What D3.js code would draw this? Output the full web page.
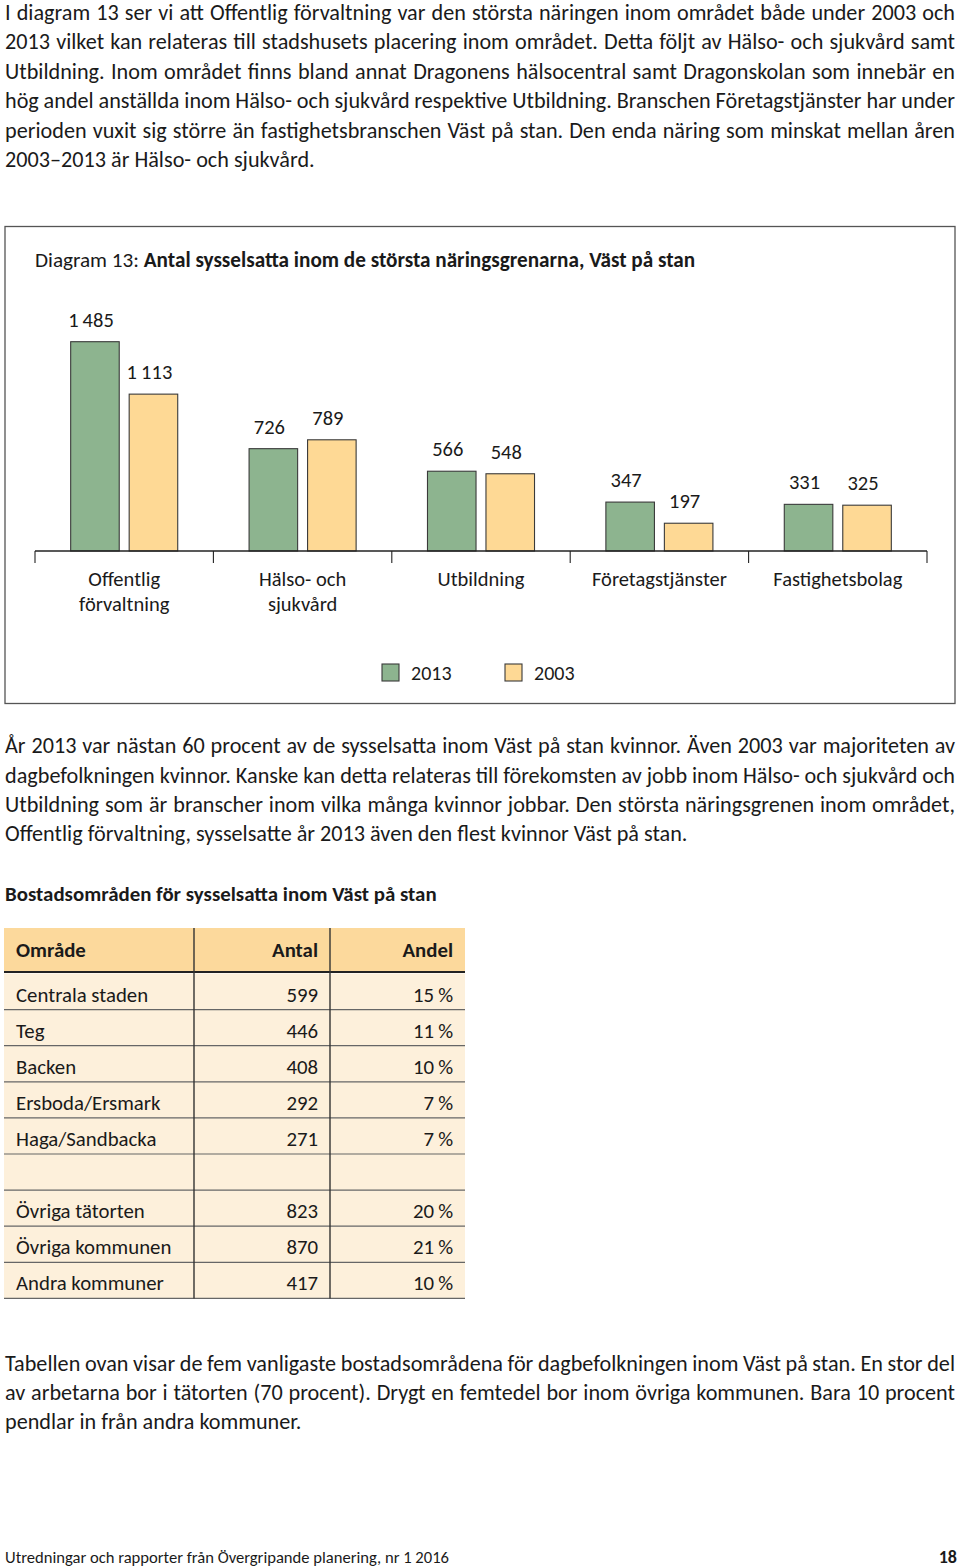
<!DOCTYPE html>
<html>
<head>
<meta charset="utf-8">
<script src="https://cdn.jsdelivr.net/npm/d3@7"></script>
<style>
  html, body { margin: 0; padding: 0; background: #fff; }
  svg { display: block; font-family: Carlito, Lato, "Open Sans", sans-serif; }
</style>
</head>
<body>
<svg id="page" width="960" height="1568"></svg>
<script>
// ---------- DATA ----------
const categories = ["Offentlig förvaltning", "Hälso- och sjukvård", "Utbildning", "Företagstjänster", "Fastighetsbolag"];
const categoryLabelLines = [["Offentlig", "förvaltning"], ["Hälso- och", "sjukvård"], ["Utbildning"], ["Företagstjänster"], ["Fastighetsbolag"]];
const seriesNames = ["2013", "2003"];
const values2013 = [1485, 726, 566, 347, 331];
const values2003 = [1113, 789, 548, 197, 325];

const tableHeader = ["Område", "Antal", "Andel"];
const tableAreas = ["Centrala staden", "Teg", "Backen", "Ersboda/Ersmark", "Haga/Sandbacka", "", "Övriga tätorten", "Övriga kommunen", "Andra kommuner"];
const tableAntal = [599, 446, 408, 292, 271, null, 823, 870, 417];
const tableAndel = [15, 11, 10, 7, 7, null, 20, 21, 10];

const para1 = [
  "I diagram 13 ser vi att Offentlig förvaltning var den största näringen inom området både under 2003 och",
  "2013 vilket kan relateras till stadshusets placering inom området. Detta följt av Hälso- och sjukvård samt",
  "Utbildning. Inom området finns bland annat Dragonens hälsocentral samt Dragonskolan som innebär en",
  "hög andel anställda inom Hälso- och sjukvård respektive Utbildning. Branschen Företagstjänster har under",
  "perioden vuxit sig större än fastighetsbranschen Väst på stan. Den enda näring som minskat mellan åren",
  "2003–2013 är Hälso- och sjukvård."
];
const para2 = [
  "År 2013 var nästan 60 procent av de sysselsatta inom Väst på stan kvinnor. Även 2003 var majoriteten av",
  "dagbefolkningen kvinnor. Kanske kan detta relateras till förekomsten av jobb inom Hälso- och sjukvård och",
  "Utbildning som är branscher inom vilka många kvinnor jobbar. Den största näringsgrenen inom området,",
  "Offentlig förvaltning, sysselsatte år 2013 även den flest kvinnor Väst på stan."
];
const para3 = [
  "Tabellen ovan visar de fem vanligaste bostadsområdena för dagbefolkningen inom Väst på stan. En stor del",
  "av arbetarna bor i tätorten (70 procent). Drygt en femtedel bor inom övriga kommunen. Bara 10 procent",
  "pendlar in från andra kommuner."
];
const tableTitle = "Bostadsområden för sysselsatta inom Väst på stan";
const chartTitlePrefix = "Diagram 13: ";
const chartTitleBold = "Antal sysselsatta inom de största näringsgrenarna, Väst på stan";
const footerText = "Utredningar och rapporter från Övergripande planering, nr 1 2016";
const pageNumber = "18";

// ---------- STYLE ----------
const GREEN = "#8db48f";
const YELLOW = "#fed995";
const HEADER_FILL = "#fcd99c";
const ROW_FILL = "#fdf0db";
const TEXT = "#1a1a1a";
const BODY_SIZE = 22.2;
const CHART_SIZE = 20.5;
const TABLE_SIZE = 20.8;

const svg = d3.select("#page");
const locale = d3.formatLocale({decimal: ",", thousands: "\u2009", grouping: [3], currency: ["", " kr"]});
const fmt = locale.format(",d");

// ---------- PARAGRAPHS ----------
function paragraph(lines, x, y0, lh, width) {
  const g = svg.append("g").attr("fill", TEXT).style("font-size", BODY_SIZE + "px");
  lines.forEach((line, i) => {
    const t = g.append("text").attr("x", x).attr("y", y0 + i * lh).text(line);
    if (i < lines.length - 1) {
      const w = t.node().getComputedTextLength();
      const n = (line.match(/ /g) || []).length;
      t.attr("word-spacing", (width - w) / n);
    }
  });
}
paragraph(para1, 5, 19.5, 29.5, 950);
paragraph(para2, 5, 753.3, 29.2, 950);
paragraph(para3, 5, 1371, 29, 950);

// ---------- CHART BOX ----------
svg.append("rect").attr("x", 5).attr("y", 226.5).attr("width", 950).attr("height", 477)
  .attr("fill", "none").attr("stroke", "#555").attr("stroke-width", 1.3);

const title = svg.append("text").attr("x", 35).attr("y", 267).attr("fill", TEXT)
  .style("font-size", "21.2px");
title.append("tspan").text(chartTitlePrefix);
title.append("tspan").attr("font-weight", "bold").text(chartTitleBold);

const x0 = d3.scaleBand().domain(categories).range([35, 927]).paddingInner(0.4).paddingOuter(0.2);
const x1 = d3.scaleBand().domain(seriesNames).range([0, x0.bandwidth()]).paddingInner(0.17);
const y = d3.scaleLinear().domain([0, 1485]).range([551, 341.7]);
const color = d3.scaleOrdinal().domain(seriesNames).range([GREEN, YELLOW]);

const rows = categories.map((c, i) => ({cat: c, lines: categoryLabelLines[i], vals: [
  {s: "2013", v: values2013[i]}, {s: "2003", v: values2003[i]}]}));

const chart = svg.append("g");
const groups = chart.selectAll("g.cat").data(rows).join("g").attr("class", "cat")
  .attr("transform", d => `translate(${x0(d.cat)},0)`);

groups.selectAll("rect").data(d => d.vals).join("rect")
  .attr("x", d => x1(d.s)).attr("y", d => y(d.v))
  .attr("width", x1.bandwidth()).attr("height", d => y(0) - y(d.v))
  .attr("fill", d => color(d.s)).attr("stroke", "#3a3a3a").attr("stroke-width", 1.1);

groups.selectAll("text.val").data(d => d.vals).join("text").attr("class", "val")
  .attr("x", d => x1(d.s) + x1.bandwidth() / 2 - 4).attr("y", d => y(d.v) - 15)
  .attr("text-anchor", "middle").attr("fill", TEXT).style("font-size", CHART_SIZE + "px")
  .text(d => fmt(d.v));

// axis
const step = x0.step();
const boundaries = d3.range(categories.length + 1).map(i => x0(categories[0]) - step * x0.paddingInner() / 2 + i * step);
chart.append("line").attr("x1", boundaries[0]).attr("x2", boundaries[boundaries.length - 1])
  .attr("y1", y(0)).attr("y2", y(0)).attr("stroke", "#222").attr("stroke-width", 1.6);
chart.selectAll("line.tick").data(boundaries).join("line").attr("class", "tick")
  .attr("x1", d => d).attr("x2", d => d).attr("y1", y(0)).attr("y2", y(0) + 12)
  .attr("stroke", "#222").attr("stroke-width", 1.1);

groups.each(function(d) {
  const t = d3.select(this).append("text").attr("text-anchor", "middle").attr("fill", TEXT)
    .style("font-size", CHART_SIZE + "px");
  d.lines.forEach((ln, i) => {
    t.append("tspan").attr("x", x0.bandwidth() / 2).attr("y", 586 + i * 25).text(ln);
  });
});

// legend
const legendX = [382, 505];
const legend = svg.append("g").selectAll("g").data(seriesNames).join("g")
  .attr("transform", (d, i) => `translate(${legendX[i]},664)`);
legend.append("rect").attr("width", 17).attr("height", 17).attr("fill", d => color(d))
  .attr("stroke", "#3a3a3a").attr("stroke-width", 1.1);
legend.append("text").attr("x", 29).attr("y", 16).attr("fill", TEXT).style("font-size", "20px").text(d => d);

// ---------- TABLE ----------
svg.append("text").attr("x", 5).attr("y", 900.7).attr("fill", TEXT).attr("font-weight", "bold")
  .style("font-size", "20.9px").text(tableTitle);

const colX = [4, 194, 330, 465];
const headerTop = 928, headerBottom = 972, rowH = 36.1;
const table = svg.append("g");
table.append("rect").attr("x", colX[0]).attr("y", headerTop).attr("width", colX[3] - colX[0])
  .attr("height", headerBottom - headerTop).attr("fill", HEADER_FILL);
const tRows = tableAreas.map((a, i) => ({area: a, antal: tableAntal[i], andel: tableAndel[i]}));
const yRow = d3.scaleBand().domain(d3.range(tRows.length)).range([headerBottom + 1.5, headerBottom + 1.5 + rowH * tRows.length]);
table.selectAll("rect.row").data(tRows).join("rect").attr("class", "row")
  .attr("x", colX[0]).attr("y", (d, i) => yRow(i)).attr("width", colX[3] - colX[0])
  .attr("height", yRow.bandwidth()).attr("fill", ROW_FILL);
table.selectAll("line.rowline").data(tRows).join("line").attr("class", "rowline")
  .attr("x1", colX[0]).attr("x2", colX[3])
  .attr("y1", (d, i) => yRow(i) + yRow.bandwidth()).attr("y2", (d, i) => yRow(i) + yRow.bandwidth())
  .attr("stroke", "#666").attr("stroke-width", 1.2);
table.append("line").attr("x1", colX[0]).attr("x2", colX[3]).attr("y1", headerBottom).attr("y2", headerBottom)
  .attr("stroke", "#222").attr("stroke-width", 2);
table.selectAll("line.col").data([colX[1], colX[2]]).join("line").attr("class", "col")
  .attr("x1", d => d).attr("x2", d => d).attr("y1", headerTop).attr("y2", yRow(tRows.length - 1) + yRow.bandwidth())
  .attr("stroke", "#333").attr("stroke-width", 1.4);

const hdr = table.append("g").attr("font-weight", "bold").attr("fill", TEXT).style("font-size", TABLE_SIZE + "px");
hdr.append("text").attr("x", 16).attr("y", 957).text(tableHeader[0]);
hdr.append("text").attr("x", 318).attr("y", 957).attr("text-anchor", "end").text(tableHeader[1]);
hdr.append("text").attr("x", 453).attr("y", 957).attr("text-anchor", "end").text(tableHeader[2]);

const cells = table.selectAll("g.cells").data(tRows).join("g").attr("class", "cells")
  .attr("fill", TEXT).style("font-size", TABLE_SIZE + "px")
  .attr("transform", (d, i) => `translate(0,${yRow(i) + 28})`);
cells.append("text").attr("x", 16).text(d => d.area);
cells.append("text").attr("x", 318).attr("text-anchor", "end").text(d => d.antal == null ? "" : d.antal);
cells.append("text").attr("x", 453).attr("text-anchor", "end").text(d => d.andel == null ? "" : d.andel + "\u2009%");

// ---------- FOOTER ----------
svg.append("text").attr("x", 5).attr("y", 1563).attr("fill", TEXT).style("font-size", "16.5px")
  .attr("textLength", 444).attr("lengthAdjust", "spacingAndGlyphs").text(footerText);
svg.append("text").attr("x", 957).attr("y", 1563).attr("text-anchor", "end").attr("fill", TEXT)
  .attr("font-weight", "bold").style("font-size", "18px").text(pageNumber);
</script>
</body>
</html>
